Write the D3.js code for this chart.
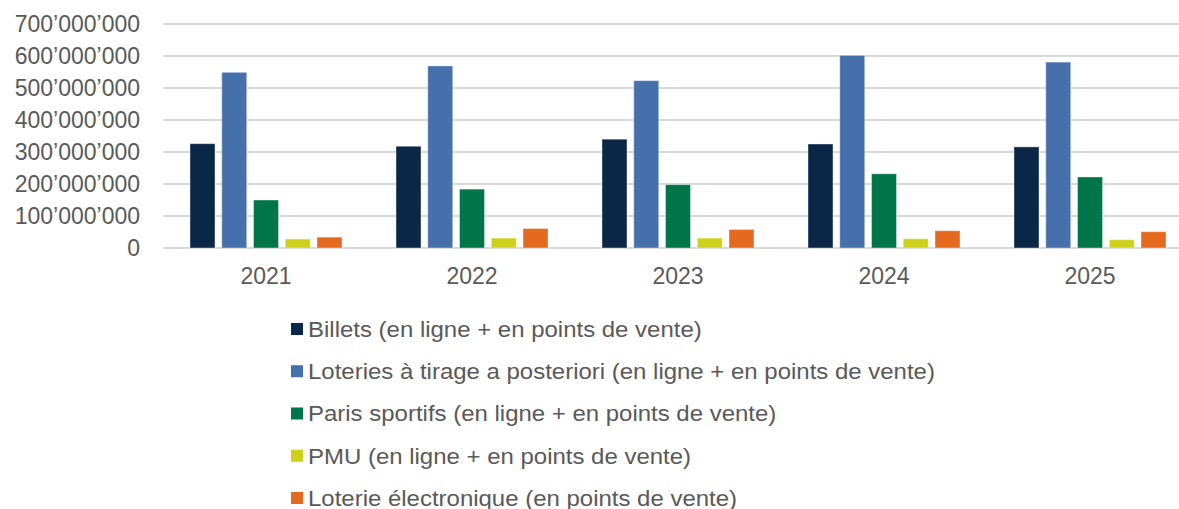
<!DOCTYPE html>
<html>
<head>
<meta charset="utf-8">
<script src="https://cdn.jsdelivr.net/npm/d3@7"></script>
<style>
  body { margin: 0; background: #fff; overflow: hidden; }
  svg text { font-family: 'Liberation Sans', Arial, sans-serif; fill: #595959; }
</style>
</head>
<body>
<svg id="chart" width="1179" height="509"></svg>
<script>
// Data
const years = ['2021', '2022', '2023', '2024', '2025'];
const series = [
  'Billets (en ligne + en points de vente)',
  'Loteries à tirage a posteriori (en ligne + en points de vente)',
  'Paris sportifs (en ligne + en points de vente)',
  'PMU (en ligne + en points de vente)',
  'Loterie électronique (en points de vente)'
];
const billets = [326000000, 318000000, 340000000, 325000000, 316000000];
const loteries = [549000000, 569000000, 523000000, 602000000, 581000000];
const paris = [150000000, 184000000, 198000000, 232000000, 222000000];
const pmu = [28000000, 31000000, 31000000, 29000000, 26000000];
const electro = [34000000, 61000000, 58000000, 54000000, 51000000];
const yTicks = [0, 100000000, 200000000, 300000000, 400000000, 500000000, 600000000, 700000000];
const colors = ['#0a2747', '#4670ab', '#00754a', '#cdd119', '#e5691e'];

const values = [billets, loteries, paris, pmu, electro];

const svg = d3.select('#chart');
// plot runs past the right edge of the picture (cropped like the original)
const margin = { top: 24, left: 163 };
const width = 1030;
const height = 224;

const g = svg.append('g')
  .attr('transform', `translate(${margin.left},${margin.top})`);

// scales
const x0 = d3.scaleBand().domain(years).range([0, width]);
const x1 = d3.scaleBand().domain(d3.range(series.length))
  .range([27, x0.bandwidth() - 27]).paddingInner(0.2126);
const y = d3.scaleLinear().domain([0, 700000000]).range([height, 0]);

const fmt = (v) => d3.format(',')(v).replace(/,/g, '\u2019');

// gridlines
g.append('g').selectAll('line')
  .data(yTicks)
  .join('line')
  .attr('x1', 0)
  .attr('x2', width)
  .attr('y1', (d) => y(d))
  .attr('y2', (d) => y(d))
  .attr('stroke', '#d9d9d9')
  .attr('stroke-width', 2);

// y labels
g.append('g').selectAll('text')
  .data(yTicks)
  .join('text')
  .attr('x', -23)
  .attr('y', (d) => y(d))
  .attr('dy', '0.36em')
  .attr('text-anchor', 'end')
  .attr('font-size', '23px')
  .text(fmt);

// bars
const groups = g.append('g').selectAll('g')
  .data(years)
  .join('g')
  .attr('transform', (d) => `translate(${x0(d)},0)`);

groups.selectAll('rect')
  .data((d, i) => values.map((arr, s) => ({ s: s, v: arr[i] })))
  .join('rect')
  .attr('x', (d) => x1(d.s))
  .attr('width', x1.bandwidth())
  .attr('y', (d) => y(d.v))
  .attr('height', (d) => y(0) - y(d.v))
  .attr('fill', (d) => colors[d.s])
  .attr('stroke', '#ffffff')
  .attr('stroke-opacity', 0.4)
  .attr('stroke-width', 1);

// x labels
g.append('g').selectAll('text')
  .data(years)
  .join('text')
  .attr('x', (d) => x0(d) + x0.bandwidth() / 2)
  .attr('y', height + 28)
  .attr('dy', '0.36em')
  .attr('text-anchor', 'middle')
  .attr('font-size', '23px')
  .text((d) => d);

// legend
const legend = svg.append('g').attr('transform', 'translate(291,329)');
const row = legend.selectAll('g')
  .data(series)
  .join('g')
  .attr('transform', (d, i) => `translate(0,${i * 42.25})`);
row.append('rect')
  .attr('x', 0)
  .attr('y', -6)
  .attr('width', 12)
  .attr('height', 12)
  .attr('fill', (d, i) => colors[i]);
row.append('text')
  .attr('transform', 'translate(17,0) scale(1.09,1)')
  .attr('dy', '0.36em')
  .attr('font-size', '22px')
  .text((d) => d);
</script>
</body>
</html>
